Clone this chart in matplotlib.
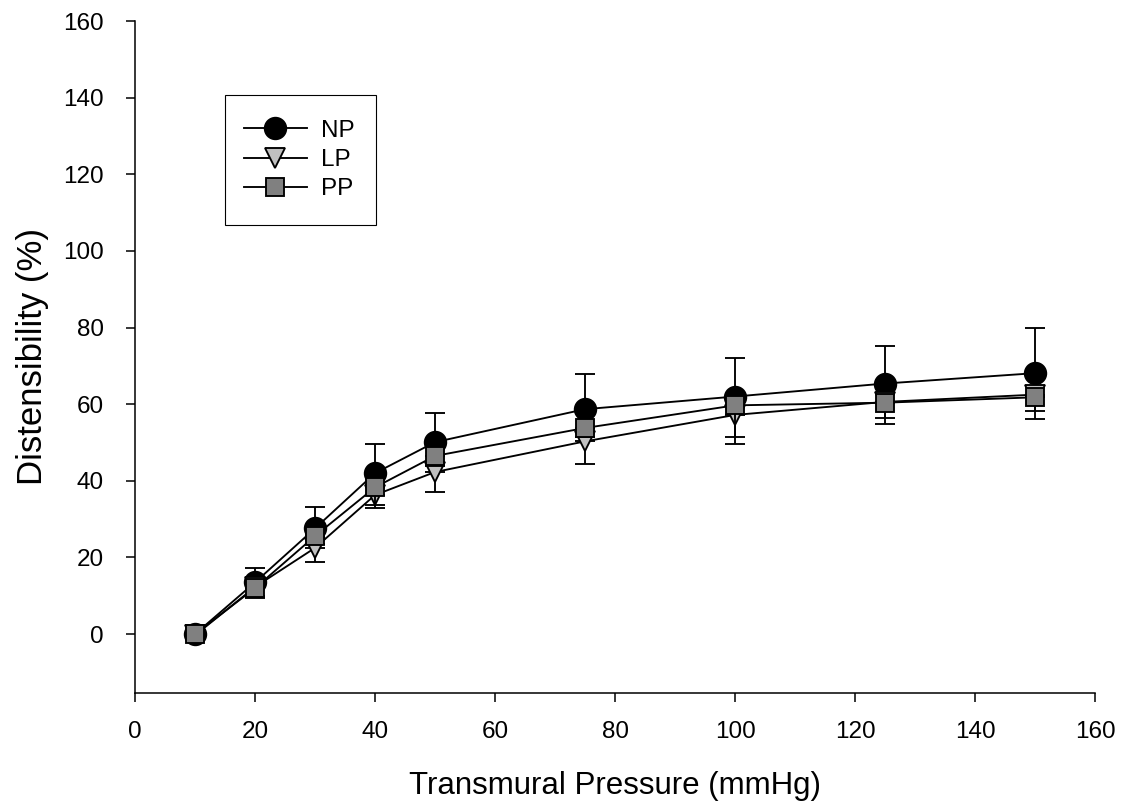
import matplotlib
matplotlib.use("Agg")
from matplotlib import pyplot as plt
from matplotlib.patches import Rectangle

# Data
pressure = [10, 20, 30, 40, 50, 75, 100, 125, 150]

np_mean = [0, 13.5, 27.6, 42.0, 50.1, 58.7, 62.0, 65.4, 68.1]
np_upper = [0, 17.3, 33.2, 49.7, 57.7, 68.0, 72.0, 75.1, 80.0]

lp_mean = [-0.3, 12.3, 22.5, 36.3, 42.3, 50.3, 57.2, 60.6, 62.5]
lp_lower = [-0.3, 9.5, 18.8, 32.8, 37.0, 44.3, 49.7, 54.8, 56.2]

pp_mean = [0, 12.0, 25.6, 38.3, 46.5, 53.8, 59.7, 60.4, 61.8]
pp_lower = [0, 10.0, 23.4, 33.8, 44.0, 51.4, 51.4, 56.5, 58.1]

xticks = [0, 20, 40, 60, 80, 100, 120, 140, 160]
yticks = [0, 20, 40, 60, 80, 100, 120, 140, 160]

plt.rcParams['font.family'] = ['Liberation Sans', 'DejaVu Sans']

fig = plt.figure(figsize=(11.31, 8.1), dpi=100)
ax = fig.add_axes([0.1194, 0.1448, 0.9682 - 0.1194, 0.974 - 0.1448])

lw = 1.35
common = dict(color='black', linewidth=lw, elinewidth=lw, capsize=7,
              capthick=lw, markeredgecolor='black', markeredgewidth=lw)

np_err = [[0] * len(np_mean), [u - m for u, m in zip(np_upper, np_mean)]]
lp_err = [[m - l for m, l in zip(lp_mean, lp_lower)], [0] * len(lp_mean)]
pp_err = [[m - l for m, l in zip(pp_mean, pp_lower)], [0] * len(pp_mean)]

ax.errorbar(pressure, np_mean, yerr=np_err, marker='o', markersize=15.5,
            markerfacecolor='black', label='NP', zorder=3, **common)
ax.errorbar(pressure, lp_mean, yerr=lp_err, marker='v', markersize=14,
            markerfacecolor='#c0c0c0', label='LP', zorder=4, **common)
ax.errorbar(pressure, pp_mean, yerr=pp_err, marker='s', markersize=13,
            markerfacecolor='#808080', label='PP', zorder=5, **common)

ax.set_xlim(0, 160)
ax.set_ylim(-15.3, 160)
ax.set_xticks(xticks)
ax.set_yticks(yticks)
ax.tick_params(direction='out', length=6.5, width=1.1, labelsize=17.5)
ax.tick_params(axis='x', pad=14)
ax.tick_params(axis='y', pad=16)
for side in ('top', 'right'):
    ax.spines[side].set_visible(False)
for side in ('left', 'bottom'):
    ax.spines[side].set_linewidth(1.1)

ax.set_xlabel('Transmural Pressure (mmHg)', fontsize=22.5, labelpad=20)
ax.set_ylabel('Distensibility (%)', fontsize=25, labelpad=10)

# Legend without frame plus a drawn frame (taller than the entries)
handles, labels = ax.get_legend_handles_labels()
handles = [h[0] for h in handles]
ax.legend(handles, labels, loc='upper left', bbox_to_anchor=(0.113, 0.853),
          frameon=False, fontsize=17.5, handlelength=2.6, labelspacing=0.3,
          handletextpad=0.6, borderpad=0, borderaxespad=0)
fig.patches.append(Rectangle((225 / 1131, 1 - 225 / 810), 150.5 / 1131, 130 / 810,
                             transform=fig.transFigure, fill=False,
                             edgecolor='black', linewidth=0.8))

fig.savefig('out.png', dpi=100)
